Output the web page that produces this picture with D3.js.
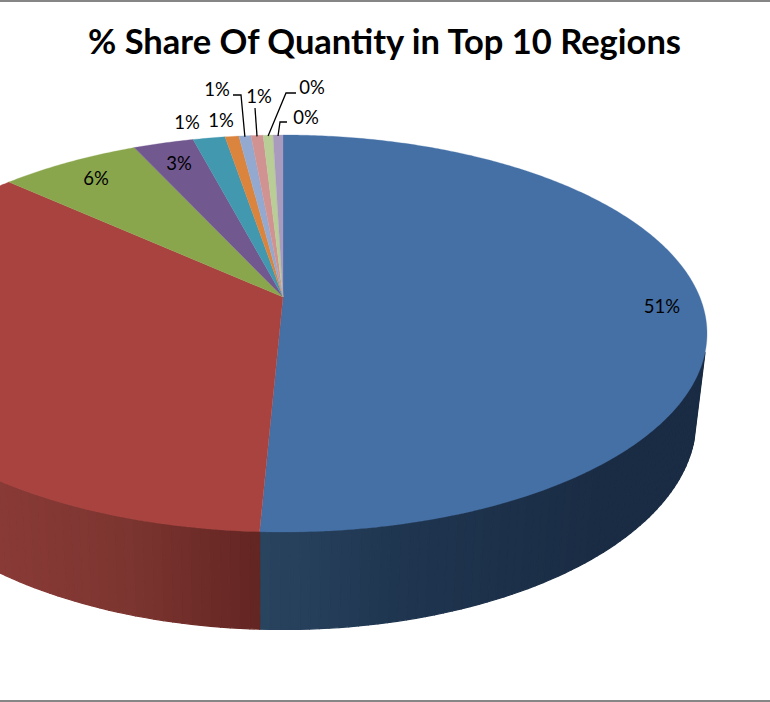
<!DOCTYPE html>
<html><head><meta charset="utf-8">
<script src="https://cdnjs.cloudflare.com/ajax/libs/d3/7.8.5/d3.min.js"></script>
<style>html,body{margin:0;padding:0;background:#fff;overflow:hidden}svg{display:block}text{font-family:Lato,"Open Sans",sans-serif}</style>
</head><body><svg id="c" width="770" height="702"></svg>
<script>
const regions = ["Region 1","Region 2","Region 3","Region 4","Region 5","Region 6","Region 7","Region 8","Region 9","Region 10"];
const shares = [50.73,36.03,6.4,2.75,1.46,0.63,0.55,0.55,0.45,0.45];
const shareLabels = ["51%","","6%","3%","1%","1%","1%","1%","0%","0%"];
const topColors = ["#4570A6","#A8433F","#8AA64D","#71588F","#4198AF","#DB843D","#93A9CF","#D19392","#B9CD96","#A99BBD"];
const title = "% Share Of Quantity in Top 10 Regions";

const W=770,H=702;
const svg=d3.select("#c");
const topRim={cx:283,cy:333.5,rx:424,ry:198.5};
const bottomRim={cx:282.5,cy:420,rx:413.5,ry:209.5};
const persp=-36.5/198.5;
const wallFrom=1.85,wallTo=2*Math.PI-1.85; // angular span of the visible outer wall
function project(angle,e){
  const A=e.rx*Math.sqrt(1-persp*persp);
  const u=Math.sin(angle),v=-Math.cos(angle),d=1+persp*v;
  return [e.cx+A*u/d, e.cy+(e.ry*v+persp*e.ry)/d];
}
const arcs=d3.pie().sort(null).value(d=>d).startAngle(0).endAngle(2*Math.PI)(shares);
const line=d3.line();
function angles(s,e,step){
  const n=Math.max(2,Math.ceil((e-s)/step));
  return d3.range(n+1).map(i=>s+(e-s)*i/n);
}
// wall shading, by horizontal position
const redSide=d3.scaleLinear().domain([-30,130,259]).range(["#8c3b38","#7c3530","#632522"]).clamp(true);
const blueSide=d3.scaleLinear().domain([260,400,600,707]).range(["#294460","#1f3550","#1a2c44","#1a2c44"]).clamp(true);
const sideScale=[blueSide,redSide];
// walls: narrow overlapping bands, only the two front slices are visible
const bands=[];
arcs.slice(0,2).forEach((a,si)=>{
  const t=angles(Math.max(a.startAngle,wallFrom),Math.min(a.endAngle,wallTo),0.02);
  for(let i=0;i<t.length-1;i++){
    const p=[project(t[i],topRim),project(t[i+1],topRim),project(t[i+1],bottomRim),project(t[i],bottomRim)];
    bands.push({p,color:sideScale[si]((p[0][0]+p[1][0]+p[2][0]+p[3][0])/4)});
  }
});
svg.append("g").selectAll("path").data(bands).join("path")
  .attr("d",d=>line(d.p)+"Z").attr("fill",d=>d.color).attr("stroke",d=>d.color).attr("stroke-width",1.2).attr("stroke-linejoin","round");
// top faces
const apex=[topRim.cx,topRim.cy+persp*topRim.ry];
svg.append("g").selectAll("path").data(arcs).join("path")
  .attr("d",a=>line([apex].concat(angles(a.startAngle,a.endAngle,0.01).map(t=>project(t,topRim))))+"Z")
  .attr("fill",(a,i)=>topColors[i]).attr("stroke",(a,i)=>topColors[i]).attr("stroke-width",0.3);
// labels
const labelPos=[[662,306],null,[96,178],[179,163],[187,122],[221,120],[217,89],[259,96],[312,87],[306,117]];
const leaders=[null,null,null,null,null,null,[[233,95],[241,95]],[[255,108]],[[296,93],[286,93]],[[287,122],[280,122]]];
svg.append("g").selectAll("path").data(arcs.filter((a,i)=>leaders[i])).join("path")
  .attr("d",a=>{const l=leaders[a.index];const m=project((a.startAngle+a.endAngle)/2,topRim);
    return line(l.concat([[m[0],m[1]+1]]));})
  .attr("fill","none").attr("stroke","#000").attr("stroke-width",1.3);
svg.append("g").selectAll("text").data(arcs.filter((a,i)=>labelPos[i])).join("text")
  .attr("x",a=>labelPos[a.index][0]).attr("y",a=>labelPos[a.index][1]+6.5)
  .attr("text-anchor","middle").attr("font-size",18.5).attr("fill","#000")
  .text(a=>shareLabels[a.index]);
svg.append("text").attr("x",384.5).attr("y",53.5).attr("text-anchor","middle")
  .attr("font-size",34.5).attr("font-weight",700).attr("fill","#000").text(title);
// chart frame
svg.append("rect").attr("x",0).attr("y",0).attr("width",W).attr("height",2).attr("fill","#868686");
svg.append("rect").attr("x",0).attr("y",700).attr("width",W).attr("height",2).attr("fill","#868686");
</script></body></html>
